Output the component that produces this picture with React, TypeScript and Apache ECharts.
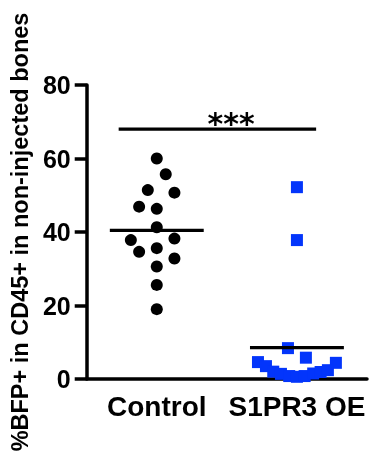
import React, { useEffect, useRef } from "react";
import * as echarts from "echarts";

// Categories and tick labels
const categories = ["Control", "S1PR3 OE"];
const yTicks = [0, 20, 40, 60, 80];
const yTitle = "%BFP+ in CD45+ in non-injected bones";

// Values (% BFP+ in CD45+)
const controlValues = [60.0, 55.7, 51.4, 50.7, 46.9, 46.3, 41.3, 37.8, 38.2, 34.6, 35.6, 32.8, 30.6, 25.6, 19.0];
// horizontal scatter (beeswarm) offsets, in category widths
const controlJitter = [0, 0.064, -0.064, 0.126, -0.126, 0, 0, -0.185, 0.126, -0.126, 0, 0.126, 0, 0, 0];

const s1pr3Values = [52.2, 37.8, 8.4, 5.8, 4.6, 4.4, 3.5, 2.0, 1.4, 0.8, 0.6, 0.8, 1.5, 1.9, 2.4];
const s1pr3Jitter = [0, 0, -0.064, 0.064, -0.278, 0.278, -0.221, -0.169, -0.114, -0.055, 0, 0.055, 0.116, 0.169, 0.221];

// Significance bracket
const sigLevel = 68;
const sigSpan = [0.228, 1.637];
const sigText = "***";

const mean = (a: number[]) => a.reduce((s, v) => s + v, 0) / a.length;

export default function App() {
  const ref = useRef<HTMLDivElement>(null);
  useEffect(() => {
    if (!ref.current) return;
    const chart = echarts.init(ref.current, null, { renderer: "svg" });
    const font = "'Liberation Sans', Arial, Helvetica, sans-serif";
    const halfMean = 0.335;
    const mC = mean(controlValues);
    const mS = mean(s1pr3Values);
    chart.setOption({
      animation: false,
      grid: { left: 86, right: 15, top: 85, bottom: 80, containLabel: false },
      xAxis: [
        {
          type: "category",
          data: categories,
          axisLine: { lineStyle: { color: "#000", width: 3.5 } },
          axisTick: { alignWithLabel: true, length: 9, lineStyle: { color: "#000", width: 3.5 } },
          axisLabel: {
            color: "#000",
            fontSize: 28,
            fontWeight: "bold",
            fontFamily: font,
            margin: 13,
            interval: 0,
            hideOverlap: false,
          },
        },
        { type: "value", min: 0, max: 2, show: false },
      ],
      yAxis: {
        type: "value",
        min: 0,
        max: 80,
        interval: 20,
        name: yTitle,
        nameLocation: "middle",
        nameGap: 53,
        nameRotate: 90,
        nameTextStyle: { color: "#000", fontSize: 23.5, fontWeight: "bold", fontFamily: font },
        splitLine: { show: false },
        axisLine: { show: true, lineStyle: { color: "#000", width: 3.5 } },
        axisTick: { show: true, length: 12, lineStyle: { color: "#000", width: 3.5 } },
        axisLabel: {
          color: "#000",
          fontSize: 25,
          fontWeight: "bold",
          fontFamily: font,
          margin: 16,
          formatter: (v: number) => (yTicks.includes(v) ? String(v) : ""),
        },
      },
      series: [
        {
          type: "scatter",
          xAxisIndex: 1,
          symbol: "circle",
          symbolSize: 12,
          itemStyle: { color: "#000", opacity: 1 },
          data: controlValues.map((v, i) => [0.5 + controlJitter[i], v]),
          z: 3,
        },
        {
          type: "scatter",
          xAxisIndex: 1,
          symbol: "rect",
          symbolSize: 12,
          itemStyle: { color: "#0335fb", opacity: 1 },
          data: s1pr3Values.map((v, i) => [1.5 + s1pr3Jitter[i], v]),
          z: 3,
        },
        {
          type: "line",
          xAxisIndex: 1,
          symbol: "none",
          lineStyle: { color: "#000", width: 3.2 },
          data: [[0.5 - halfMean, mC], [0.5 + halfMean, mC]],
          z: 4,
        },
        {
          type: "line",
          xAxisIndex: 1,
          symbol: "none",
          lineStyle: { color: "#000", width: 3.2 },
          data: [[1.5 - halfMean, mS], [1.5 + halfMean, mS]],
          z: 4,
        },
        {
          type: "line",
          xAxisIndex: 1,
          symbol: "none",
          lineStyle: { color: "#000", width: 3.2 },
          data: [[sigSpan[0], sigLevel], [sigSpan[1], sigLevel]],
          z: 4,
        },
        {
          type: "scatter",
          xAxisIndex: 1,
          symbolSize: 0,
          itemStyle: { opacity: 1 },
          data: [[1.03, sigLevel]],
          label: {
            show: true,
            position: "top",
            distance: -9,
            formatter: sigText,
            color: "#000",
            opacity: 1,
            fontSize: 30,
            fontWeight: "bold",
            fontFamily: "'DejaVu Sans', sans-serif",
          },
          z: 5,
        },
      ],
    });
    return () => chart.dispose();
  }, []);
  return <div ref={ref} style={{ position: "fixed", left: 0, top: 0, width: 382, height: 459 }} />;
}
